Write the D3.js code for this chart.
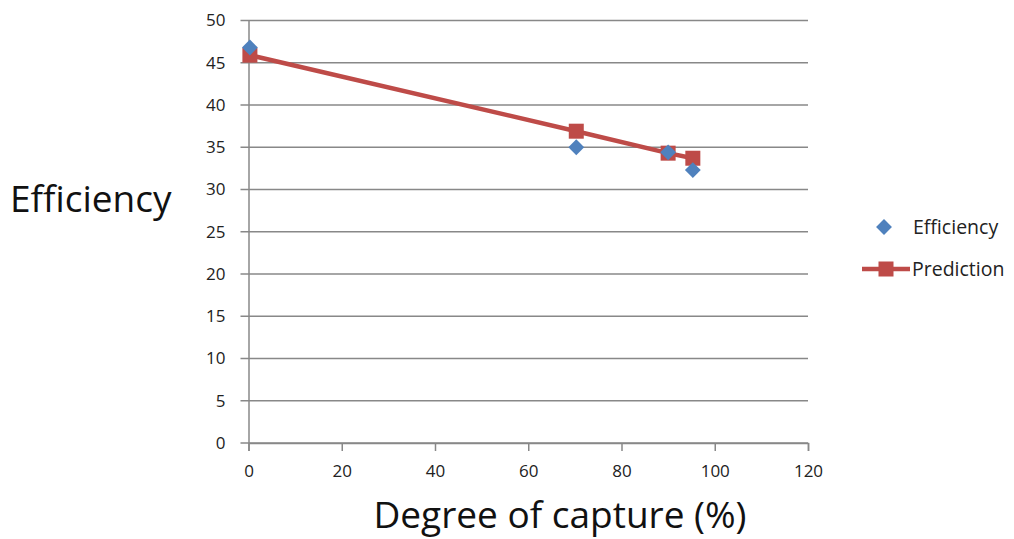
<!DOCTYPE html>
<html>
<head>
<meta charset="utf-8">
<script src="https://cdn.jsdelivr.net/npm/d3@7"></script>
<style>
  body { margin: 0; background: #fff; }
  text { font-family: "Open Sans", "Noto Sans", sans-serif; }
</style>
</head>
<body>
<svg width="1014" height="539"></svg>
<script>
const capture = [0.3, 70.3, 90, 95.3];
const efficiency = [46.8, 35, 34.4, 32.3];
const prediction = [45.9, 36.9, 34.3, 33.7];
const xTicks = [0, 20, 40, 60, 80, 100, 120];
const yTicks = [0, 5, 10, 15, 20, 25, 30, 35, 40, 45, 50];

const margin = { left: 248.5, right: 206, top: 20.5, bottom: 96 };
const svg = d3.select('svg');
const width = +svg.attr('width');
const height = +svg.attr('height');
const innerWidth = width - margin.left - margin.right;
const innerHeight = height - margin.top - margin.bottom;

const g = svg.append('g')
    .attr('transform', `translate(${margin.left}, ${margin.top})`);

const xScale = d3.scaleLinear().domain([0, 120]).range([0, innerWidth]);
const yScale = d3.scaleLinear().domain([0, 50]).range([innerHeight, 0]);

const gray = '#888888';

// gridlines
g.selectAll('.grid').data(yTicks)
  .enter().append('line')
  .attr('x1', -8).attr('x2', innerWidth)
  .attr('y1', d => yScale(d)).attr('y2', d => yScale(d))
  .attr('stroke', gray).attr('stroke-width', 1.3);

const xAxis = d3.axisBottom(xScale).tickValues(xTicks).tickSize(8).tickPadding(14);
const yAxis = d3.axisLeft(yScale).tickValues(yTicks).tickSize(0).tickPadding(23);

const xAxisG = g.append('g').attr('transform', `translate(0, ${innerHeight})`).call(xAxis);
const yAxisG = g.append('g').call(yAxis);

[xAxisG, yAxisG].forEach(a => {
  a.select('.domain').attr('stroke', gray).attr('stroke-width', 1.5);
  a.selectAll('.tick line').attr('stroke', gray).attr('stroke-width', 1.5);
  a.selectAll('text').attr('font-size', 17).attr('fill', '#222')
    .attr('font-family', '"Open Sans", sans-serif');
});

const pts = capture.map((c, i) => ({ x: c, e: efficiency[i], p: prediction[i] }));

const red = '#be4b48';
const blue = '#4f81bd';

g.append('path').datum(pts)
  .attr('fill', 'none').attr('stroke', red).attr('stroke-width', 4.5)
  .attr('d', d3.line().x(d => xScale(d.x)).y(d => yScale(d.p)));

const diamond = d3.symbol().type(d3.symbolDiamond2).size(160);

g.selectAll('.pred').data(pts)
  .enter().append('rect')
  .attr('x', d => xScale(d.x) - 7.5).attr('y', d => yScale(d.p) - 7.5)
  .attr('width', 15).attr('height', 15).attr('fill', red);

g.selectAll('.eff').data(pts)
  .enter().append('path')
  .attr('transform', d => `translate(${xScale(d.x)}, ${yScale(d.e)})`)
  .attr('d', diamond).attr('fill', blue);

// axis titles
svg.append('text').attr('x', 10).attr('y', 212)
  .attr('font-size', 37).attr('fill', '#111').text('Efficiency');
svg.append('text').attr('x', 560).attr('y', 528).attr('text-anchor', 'middle')
  .attr('font-size', 37).attr('fill', '#111').text('Degree of capture (%)');

// legend
const leg = svg.append('g');
leg.append('path').attr('transform', 'translate(884, 227)').attr('d', diamond).attr('fill', blue);
leg.append('text').attr('x', 913).attr('y', 234).attr('font-size', 19.5).attr('fill', '#222').text('Efficiency');
leg.append('line').attr('x1', 862).attr('x2', 910).attr('y1', 269).attr('y2', 269)
  .attr('stroke', red).attr('stroke-width', 4.5);
leg.append('rect').attr('x', 878.5).attr('y', 261.5).attr('width', 15).attr('height', 15).attr('fill', red);
leg.append('text').attr('x', 912).attr('y', 276).attr('font-size', 19.5).attr('fill', '#222').text('Prediction');
</script>
</body>
</html>
